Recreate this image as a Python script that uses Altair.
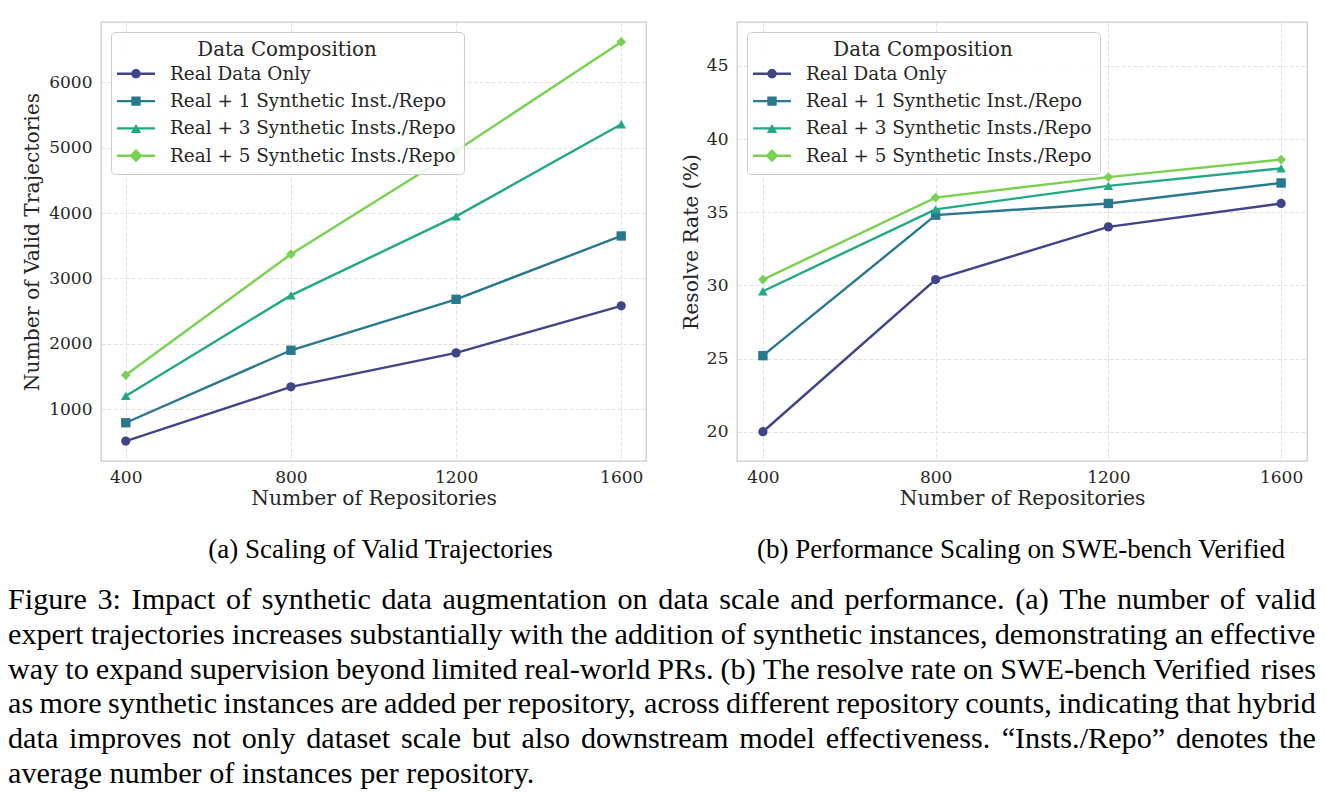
import altair as alt
import pandas as pd

# ---- data -------------------------------------------------------------
repos = [400, 800, 1200, 1600]

series_names = [
    "Real Data Only",
    "Real + 1 Synthetic Inst./Repo",
    "Real + 3 Synthetic Insts./Repo",
    "Real + 5 Synthetic Insts./Repo",
]
series_colors = ["#414487", "#2a788e", "#22a884", "#7ad151"]
series_shapes = ["circle", "square", "triangle-up", "diamond"]
series_marker_sizes = [85, 95, 105, 165]

traj_real = [510, 1340, 1860, 2580]
traj_syn1 = [790, 1900, 2680, 3650]
traj_syn3 = [1200, 2740, 3950, 5360]
traj_syn5 = [1520, 3370, 4950, 6620]

rate_real = [20.0, 30.4, 34.0, 35.6]
rate_syn1 = [25.2, 34.8, 35.6, 37.0]
rate_syn3 = [29.6, 35.2, 36.8, 38.0]
rate_syn5 = [30.4, 36.0, 37.4, 38.6]

subcaption_a = "(a) Scaling of Valid Trajectories"
subcaption_b = "(b) Performance Scaling on SWE-bench Verified"

caption_lines = [
    "Figure 3: Impact of synthetic data augmentation on data scale and performance. (a) The number of valid",
    "expert trajectories increases substantially with the addition of synthetic instances, demonstrating an effective",
    "way to expand supervision beyond limited real-world PRs. (b) The resolve rate on SWE-bench Verified rises",
    "as more synthetic instances are added per repository, across different repository counts, indicating that hybrid",
    "data improves not only dataset scale but also downstream model effectiveness. \u201cInsts./Repo\u201d denotes the",
    "average number of instances per repository.",
]

# ---- styling constants -----------------------------------------------
SERIF = "DejaVu Serif"
CAPTION_FONT = "Liberation Serif"
TEXT = "#262626"
CAP_FS = 30.2
CAP_LEAD = 34.8
CAP_W = 1308
LEFT_GUTTER = 93   # distance from the left plot edge to the figure text margin

# legend glyphs: a short line with the marker on top (unit box, scaled by Vega)
LINE = "M-1.9,-0.12 H1.9 V0.12 H-1.9 Z "
legend_glyphs = [
    LINE + "M0.47,0 A0.47,0.47 0 1,1 -0.47,0 A0.47,0.47 0 1,1 0.47,0 Z",
    LINE + "M-0.47,-0.47 H0.47 V0.47 H-0.47 Z",
    LINE + "M0,-0.45 L0.52,0.45 L-0.52,0.45 Z",
    LINE + "M0,-0.66 L0.66,0 L0,0.66 L-0.66,0 Z",
]


def long_table(values):
    rows = []
    for name, vals in zip(series_names, values):
        for r, v in zip(repos, vals):
            rows.append({"repos": r, "value": v, "series": name})
    return pd.DataFrame(rows)


traj_df = long_table([traj_real, traj_syn1, traj_syn3, traj_syn5])
rate_df = long_table([rate_real, rate_syn1, rate_syn3, rate_syn5])

color_scale = alt.Scale(domain=series_names, range=series_colors)
shape_scale = alt.Scale(domain=series_names, range=series_shapes)
size_scale = alt.Scale(domain=series_names, range=series_marker_sizes)
glyph_scale = alt.Scale(domain=series_names, range=legend_glyphs)

legend = alt.Legend(
    title="Data Composition",
    orient="top-left",
    offset=10,
    padding=8,
    fillColor="rgba(255,255,255,0.85)",
    strokeColor="#cccccc",
    cornerRadius=4,
    titleFont=SERIF,
    titleFontSize=19.8,
    titleFontWeight="normal",
    titleColor=TEXT,
    titleAnchor="middle",
    titlePadding=4,
    labelFont=SERIF,
    labelFontSize=18.4,
    labelColor=TEXT,
    labelLimit=500,
    labelOffset=24,
    symbolSize=400,
    symbolOffset=7,
    symbolStrokeWidth=0,
    rowPadding=7.3,
)


def panel(df, y_title, y_domain, y_values, width, title, title_dx, title_pad, extend_left=None):
    x_enc = alt.X(
        "repos:Q",
        scale=alt.Scale(domain=[340, 1660], nice=False, zero=False),
        axis=alt.Axis(values=repos, format="d", title="Number of Repositories",
                      labelPadding=8, titlePadding=3),
    )
    y_enc = alt.Y(
        "value:Q",
        scale=alt.Scale(domain=y_domain, nice=False, zero=False),
        axis=alt.Axis(values=y_values, format="d", title=y_title,
                      labelPadding=9, titlePadding=title_pad),
    )
    base = alt.Chart(df).encode(x=x_enc, y=y_enc)
    lines = base.mark_line(strokeWidth=2.4).encode(
        color=alt.Color("series:N", scale=color_scale, legend=None)
    )
    points = base.mark_point(filled=True, opacity=1).encode(
        color=alt.Color("series:N", scale=color_scale, legend=None),
        shape=alt.Shape("series:N", scale=shape_scale, legend=None),
        size=alt.Size("series:N", scale=size_scale, legend=None),
    )
    key = base.mark_point(filled=True, opacity=1, size=400).encode(
        color=alt.Color("series:N", scale=color_scale, legend=legend),
        shape=alt.Shape("series:N", scale=glyph_scale, legend=legend),
    ).transform_filter("false")
    layers = [lines, points, key]
    if extend_left is not None:
        # blank spacer that widens the panel's left bound
        layers.append(
            alt.Chart(pd.DataFrame({"t": ["."]})).mark_text(
                align="left", color="white", opacity=0
            ).encode(text="t:N", x=alt.value(extend_left), y=alt.value(438))
        )
    return alt.layer(*layers).resolve_scale(
        color="independent", shape="independent", size="independent"
    ).properties(
        width=width,
        height=439,
        view=alt.ViewBackground(stroke="#cccccc", strokeWidth=1.3),
        title=alt.TitleParams(
            title, orient="bottom", anchor="middle", font=CAPTION_FONT,
            fontSize=27, fontWeight="normal", color="black", offset=29, dx=title_dx,
        ),
    )


left = panel(traj_df, "Number of Valid Trajectories", [204.5, 6925.5],
             [1000, 2000, 3000, 4000, 5000, 6000], 545, subcaption_a, 7, 6,
             extend_left=-LEFT_GUTTER)
right = panel(rate_df, "Resolve Rate (%)", [18, 48],
              [20, 25, 30, 35, 40, 45], 570, subcaption_b, -1, 5)

# ---- justified caption --------------------------------------------------
TIMES = {" ": 250, "(": 333, ")": 333, ",": 250, "-": 333, ".": 250, "/": 278,
         ":": 278, ";": 278, "\u201c": 444, "\u201d": 444, "'": 333, "%": 833}
for d in "0123456789":
    TIMES[d] = 500
TIMES.update(dict(zip("ABCDEFGHIJKLMNOPQRSTUVWXYZ",
                      [722, 667, 667, 722, 611, 556, 722, 722, 333, 389, 722, 611, 889,
                       722, 722, 556, 722, 667, 556, 611, 722, 722, 944, 722, 722, 611])))
TIMES.update(dict(zip("abcdefghijklmnopqrstuvwxyz",
                      [444, 500, 444, 500, 444, 333, 500, 500, 278, 278, 500, 278, 778,
                       500, 500, 500, 500, 333, 389, 278, 500, 500, 722, 500, 500, 444])))


def word_width(w):
    return sum(TIMES.get(c, 500) for c in w) / 1000.0 * CAP_FS


cap_rows = []
for li, line in enumerate(caption_lines):
    words = line.split(" ")
    widths = [word_width(w) for w in words]
    if li < len(caption_lines) - 1 and len(words) > 1:
        gap = (CAP_W - sum(widths)) / (len(words) - 1)
    else:
        gap = 0.25 * CAP_FS
    xpos = 0.0
    for w, wd in zip(words, widths):
        cap_rows.append({"word": w, "x": xpos, "line": li})
        xpos += wd + gap
cap_df = pd.DataFrame(cap_rows)
n_lines = len(caption_lines)

caption = alt.Chart(cap_df).mark_text(
    align="left", baseline="middle", font=CAPTION_FONT, fontSize=CAP_FS, color="black"
).encode(
    x=alt.X("x:Q", scale=alt.Scale(domain=[0, CAP_W],
                                   range=[-LEFT_GUTTER, CAP_W - LEFT_GUTTER],
                                   nice=False, zero=False), axis=None),
    y=alt.Y("line:Q", scale=alt.Scale(domain=[0, n_lines - 1],
                                      range=[0, CAP_LEAD * (n_lines - 1)],
                                      nice=False, zero=False), axis=None),
    text="word:N",
).properties(width=CAP_W - LEFT_GUTTER, height=CAP_LEAD * (n_lines - 1))

chart = alt.vconcat(
    alt.hconcat(left, right, spacing=33),
    caption,
    spacing=21,
).properties(
    padding={"left": 7, "top": 21, "right": 4, "bottom": 0},
    background="white",
).configure_view(
    strokeWidth=0
).configure_axis(
    domain=False,
    ticks=False,
    grid=True,
    gridColor="#dcdcdc",
    gridDash=[4, 2],
    gridWidth=0.8,
    labelFont=SERIF,
    labelFontSize=17,
    labelColor=TEXT,
    titleFont=SERIF,
    titleFontSize=20.3,
    titleFontWeight="normal",
    titleColor=TEXT,
)

chart.save("out.html", embed_options={"renderer": "svg", "actions": False})
